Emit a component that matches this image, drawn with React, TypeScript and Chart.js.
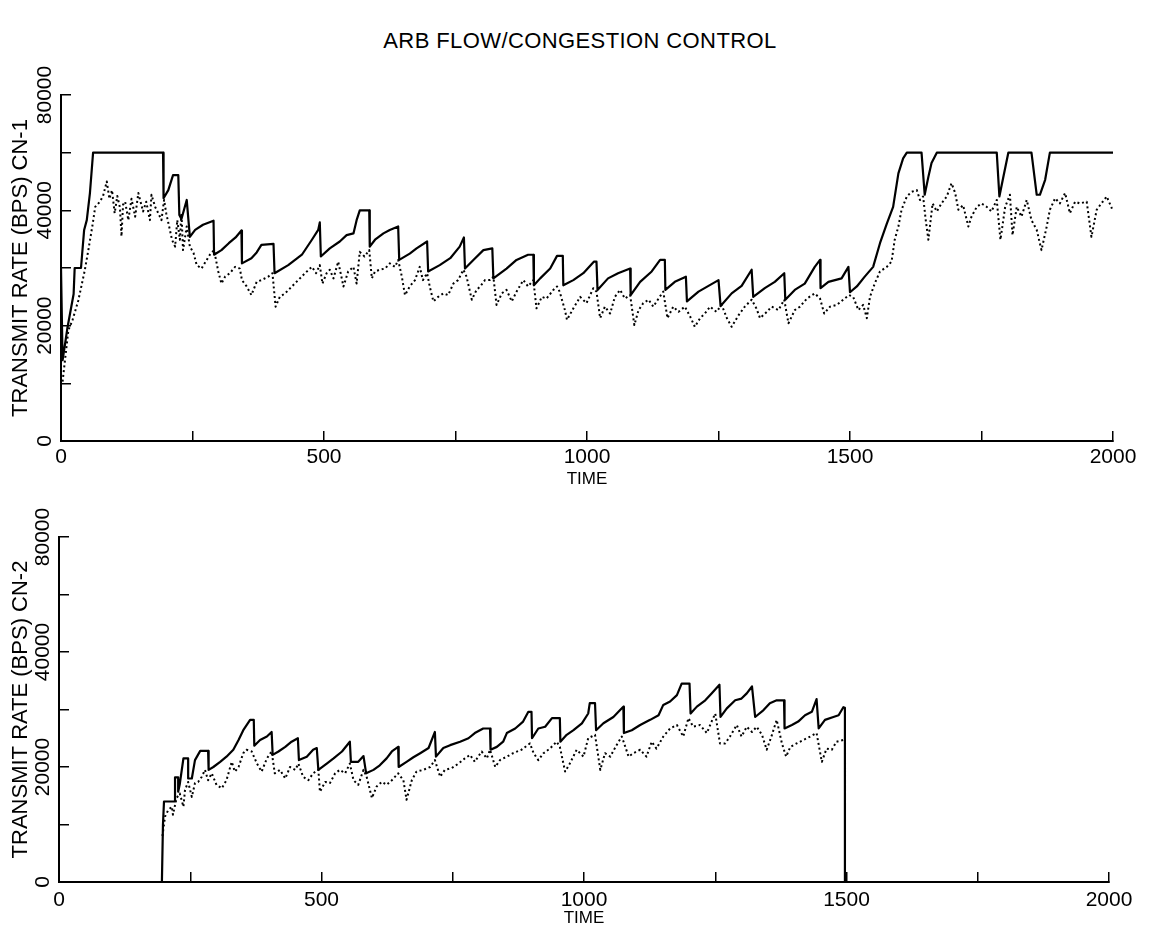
import React, { useEffect, useRef } from "react";
import { Chart, registerables } from "chart.js";

Chart.register(...registerables);

const FONT = "'Liberation Sans', Arial, sans-serif";

const TITLE = "ARB FLOW/CONGESTION CONTROL";
const X_TITLE = "TIME";
const TOP_Y_TITLE = "TRANSMIT RATE (BPS) CN-1";
const BOTTOM_Y_TITLE = "TRANSMIT RATE (BPS) CN-2";

const X_MIN = 0;
const X_MAX = 2000;
const X_STEP = 250;
const X_LABEL_EVERY = 500;
const Y_MIN = 0;
const Y_MAX = 60000;
const Y_STEP = 10000;
const Y_TICK_VALUES = [0, 20000, 40000, 60000];
const Y_TICK_LABELS = ["0", "20000", "40000", "80000"];

// ---- CN-1 (top) ----
const TOP_SOLID_T = [
  0, 3, 8, 12, 18, 24, 26, 38, 44, 49, 55, 61, 194, 195, 204, 213, 223, 225, 229, 239, 245, 255, 270, 290, 291,
  305, 319, 332, 343, 344, 362, 372, 381, 404, 406, 432, 458, 477, 489, 492, 494, 511, 530, 543, 556, 562, 568,
  586, 587, 597, 613, 625, 641, 643, 663, 676, 696, 698, 720, 740, 758, 766, 768, 784, 803, 820, 822, 847, 866,
  888, 898, 899, 911, 930, 943, 954, 955, 974, 993, 1013, 1018, 1020, 1040, 1059, 1082, 1083, 1101, 1123, 1139,
  1148, 1149, 1167, 1188, 1190, 1212, 1231, 1250, 1254, 1275, 1294, 1313, 1316, 1338, 1357, 1375, 1377, 1395,
  1414, 1433, 1443, 1444, 1459, 1484, 1497, 1500, 1513, 1528, 1544, 1557, 1570, 1582, 1592, 1601, 1608, 1636,
  1642, 1649, 1655, 1665, 1779, 1784, 1792, 1801, 1845, 1855, 1861, 1871, 1880, 2000,
];
const TOP_SOLID_V = [
  30000, 14000, 17000, 19500, 22500, 25500, 30000, 30000, 36600, 38300, 43000, 50000, 50000, 42100, 43500, 46100,
  46100, 39200, 38500, 41800, 35400, 36600, 37500, 38200, 32300, 33100, 34300, 35300, 36500, 30800, 31700, 32700,
  34000, 34200, 29100, 30500, 32300, 34900, 36600, 37900, 32000, 33400, 34600, 35700, 36000, 38300, 40000, 40000,
  33700, 34900, 36000, 36600, 37200, 31400, 32500, 33400, 34600, 29400, 30500, 31700, 33700, 35300, 29900, 31400,
  33100, 33400, 28200, 29900, 31400, 32300, 32300, 27000, 28200, 29900, 32100, 32100, 27000, 27900, 29100, 31100,
  31100, 26200, 28200, 29100, 29900, 25300, 27600, 29400, 31400, 31400, 26200, 27600, 28500, 24200, 25900, 26900,
  27900, 23400, 25600, 26900, 29700, 25000, 26500, 27600, 29100, 24500, 26200, 27300, 30200, 31400, 26500, 27600,
  28200, 30200, 25800, 26800, 28500, 30200, 34300, 37700, 40600, 46400, 49000, 50000, 50000, 42700, 45800, 48200,
  50000, 50000, 42400, 46000, 50000, 50000, 42700, 42700, 45300, 50000, 50000,
];
const TOP_DOT_T = [
  3, 14, 22, 33, 45, 52, 60, 65, 74, 80, 87, 92, 97, 102, 107, 112, 115, 118, 122, 128, 134, 141, 147, 156, 162,
  169, 172, 179, 185, 191, 196, 200, 207, 211, 217, 221, 226, 229, 232, 239, 245, 252, 258, 267, 277, 283, 291,
  299, 305, 312, 321, 331, 340, 344, 353, 362, 372, 381, 394, 402, 408, 416, 426, 439, 451, 464, 477, 485, 492,
  497, 505, 511, 518, 527, 537, 546, 556, 562, 568, 577, 586, 591, 597, 606, 616, 625, 635, 641, 648, 654, 663,
  673, 682, 688, 696, 701, 708, 717, 727, 736, 746, 755, 765, 771, 781, 790, 797, 806, 816, 822, 828, 838, 847,
  857, 866, 879, 888, 898, 904, 914, 923, 936, 943, 948, 958, 962, 974, 987, 999, 1012, 1018, 1025, 1034, 1044,
  1053, 1063, 1072, 1082, 1090, 1098, 1107, 1117, 1126, 1136, 1145, 1153, 1164, 1174, 1186, 1196, 1205, 1215,
  1224, 1234, 1246, 1256, 1266, 1275, 1288, 1300, 1313, 1322, 1329, 1342, 1351, 1364, 1375, 1383, 1395, 1405,
  1418, 1433, 1443, 1451, 1462, 1475, 1487, 1498, 1506, 1516, 1525, 1532, 1538, 1547, 1557, 1570, 1579, 1585,
  1592, 1598, 1608, 1617, 1627, 1633, 1639, 1644, 1649, 1657, 1665, 1674, 1684, 1693, 1700, 1706, 1715, 1725,
  1731, 1741, 1750, 1760, 1769, 1779, 1786, 1795, 1804, 1809, 1817, 1826, 1836, 1845, 1855, 1864, 1874, 1880,
  1890, 1899, 1909, 1918, 1928, 1937, 1950, 1959, 1969, 1978, 1988, 1998,
];
const TOP_DOT_V = [
  10300, 19200, 21000, 24400, 29500, 33100, 37500, 40600, 41500, 42500, 45000, 42000, 43500, 39500, 42500, 40500,
  35500, 41000, 41500, 38300, 42000, 38900, 43000, 39800, 41500, 38300, 42700, 40600, 39500, 38300, 41800, 39500,
  36600, 34900, 33700, 38300, 34900, 39500, 33100, 37200, 33700, 32600, 30500, 29900, 31400, 32300, 33100, 29400,
  27300, 28500, 29100, 30200, 29900, 27900, 26800, 25300, 27600, 27900, 28500, 29100, 23300, 25000, 25600, 26800,
  27900, 29100, 30200, 29100, 30500, 27300, 29100, 29700, 28200, 31100, 26800, 29400, 30200, 27300, 32800, 32000,
  33100, 28200, 29400, 29700, 29900, 30800, 30200, 31400, 28500, 25300, 26800, 27900, 30200, 27900, 29100, 26800,
  24200, 25000, 25600, 25300, 27300, 27900, 29700, 28500, 24500, 26200, 26800, 27900, 27900, 28500, 23600, 25600,
  26200, 24200, 25900, 27900, 26800, 27900, 23000, 25000, 24700, 26200, 26800, 25900, 22700, 21000, 23000, 25000,
  23900, 26500, 25900, 21300, 23300, 22100, 25000, 26200, 24700, 25300, 20100, 22700, 23900, 24500, 23300, 24700,
  25900, 21300, 23300, 22400, 23300, 21600, 19800, 21300, 22100, 23300, 22400, 23600, 21300, 19800, 21800, 23300,
  24500, 23000, 21300, 22400, 23300, 22700, 24500, 20400, 22700, 23300, 24700, 25600, 24700, 22100, 23300, 23600,
  24500, 25300, 25000, 22700, 23600, 21300, 25000, 27300, 29400, 30200, 31100, 34900, 37200, 40100, 42400, 43200,
  43500, 41800, 42400, 38300, 34900, 41200, 39800, 41200, 42400, 44700, 43000, 40100, 40900, 37200, 38900, 40600,
  41200, 40600, 39800, 41800, 34900, 40600, 42700, 35700, 40600, 38900, 41800, 38300, 36600, 33100, 37200, 40100,
  42100, 41200, 43000, 39500, 41500, 41200, 41500, 35400, 40100, 41200, 42400, 40300,
];

// ---- CN-2 (bottom) ----
const BOT_SOLID_T = [
  0, 196, 198, 200, 221, 221, 227, 227, 230, 237, 246, 246, 253, 259, 269, 284, 285, 294, 307, 319, 332, 342, 351,
  364, 371, 372, 383, 396, 405, 407, 418, 431, 443, 455, 457, 472, 484, 491, 494, 510, 523, 539, 554, 556, 570,
  580, 585, 599, 611, 624, 634, 646, 647, 662, 675, 688, 704, 716, 718, 732, 745, 764, 780, 792, 808, 821, 822,
  834, 846, 853, 869, 884, 894, 900, 901, 913, 926, 939, 954, 955, 967, 980, 996, 1008, 1011, 1021, 1023, 1037,
  1056, 1072, 1075, 1076, 1091, 1107, 1126, 1142, 1151, 1164, 1177, 1186, 1201, 1203, 1215, 1231, 1243, 1258,
  1260, 1272, 1288, 1300, 1310, 1320, 1326, 1342, 1354, 1367, 1381, 1382, 1396, 1408, 1421, 1434, 1443, 1447,
  1459, 1475, 1485, 1494, 1497, 1497, 2000,
];
const BOT_SOLID_V = [
  0, 0, 9900, 14000, 14000, 18200, 18200, 15700, 17000, 21500, 21500, 18000, 18000, 21200, 22800, 22800, 19500,
  20000, 20900, 21800, 23000, 24700, 26400, 28200, 28200, 23700, 24700, 25300, 26100, 22100, 22700, 23500, 24400,
  25000, 21200, 21800, 23000, 23300, 19500, 20600, 21500, 22700, 24400, 20900, 20900, 21900, 18900, 19500, 20300,
  21500, 22700, 23500, 20000, 20900, 21700, 22400, 23300, 26100, 21800, 23300, 23800, 24400, 25000, 25900, 26700,
  26700, 23000, 23500, 24400, 25900, 26700, 27900, 29600, 29600, 25000, 26700, 27000, 28500, 28500, 24400, 25600,
  26400, 27600, 29300, 31100, 31100, 26400, 27600, 28700, 30200, 30500, 25900, 26400, 27300, 28200, 29000, 30800,
  31400, 32500, 34500, 34500, 29300, 30500, 31600, 32800, 34300, 28700, 30200, 31600, 31900, 32800, 34000, 28700,
  29900, 31100, 31600, 31600, 26700, 27300, 27900, 29000, 29600, 31800, 26700, 28200, 28700, 29000, 30400, 30300,
  0, 0,
];
const BOT_DOT_T = [
  197, 202, 208, 215, 217, 224, 230, 237, 240, 246, 253, 259, 265, 272, 278, 284, 291, 300, 310, 319, 329, 335,
  342, 351, 357, 367, 377, 386, 396, 405, 411, 421, 431, 440, 450, 456, 465, 475, 484, 494, 497, 507, 516, 526,
  535, 545, 554, 561, 570, 580, 586, 596, 605, 615, 624, 634, 646, 656, 662, 672, 681, 694, 707, 716, 726, 735,
  748, 761, 773, 783, 792, 805, 815, 821, 831, 840, 853, 865, 881, 897, 904, 913, 923, 935, 948, 954, 964, 973,
  986, 999, 1008, 1021, 1031, 1040, 1050, 1062, 1072, 1085, 1094, 1107, 1119, 1129, 1138, 1151, 1164, 1177, 1189,
  1199, 1208, 1221, 1234, 1243, 1250, 1259, 1269, 1278, 1291, 1300, 1310, 1320, 1329, 1339, 1348, 1358, 1367,
  1377, 1385, 1393, 1405, 1418, 1431, 1443, 1453, 1462, 1472, 1481, 1494,
];
const BOT_DOT_V = [
  8000, 11400, 12500, 13100, 11700, 14600, 15400, 13100, 16000, 17400, 14800, 17200, 17400, 18300, 19500, 17700,
  18900, 16900, 16300, 17700, 20900, 19200, 20000, 22400, 23000, 22700, 20600, 19200, 21500, 22700, 18900, 19500,
  18000, 20000, 19500, 20600, 18300, 17700, 18900, 19500, 15700, 17400, 17200, 18900, 19500, 18900, 20600, 17700,
  16900, 19500, 18300, 14600, 16600, 17400, 16900, 17700, 18900, 17700, 14300, 17700, 19200, 19500, 20000, 21200,
  18300, 19500, 19800, 20600, 21500, 22100, 20900, 22700, 21500, 23000, 20000, 21200, 21800, 22400, 23000, 24100,
  22400, 21200, 22400, 23200, 24400, 23500, 19200, 20600, 23000, 21800, 25000, 25600, 19500, 22400, 21800, 23800,
  25300, 21800, 22400, 23000, 21800, 24400, 23200, 25300, 26700, 27300, 25300, 28500, 27000, 27300, 25900, 27900,
  29300, 24100, 24100, 25300, 27300, 25300, 27000, 26100, 27000, 25600, 23000, 25600, 28200, 24100, 21800, 23500,
  24100, 24700, 25300, 25900, 20900, 23200, 23000, 24400, 24700,
];

function toPoints(t: number[], v: number[]) {
  return t.map((x, i) => ({ x, y: v[i] }));
}

const rotatedYLabels = {
  id: "rotatedYLabels",
  afterDraw(chart: any, _args: any, opts: any) {
    const ctx = chart.ctx;
    const ys = chart.scales.y;
    ctx.save();
    ctx.font = `${opts.size}px ${FONT}`;
    ctx.fillStyle = "#000";
    ctx.textAlign = "center";
    ctx.textBaseline = "middle";
    Y_TICK_VALUES.forEach((v, i) => {
      const py = ys.getPixelForValue(v);
      ctx.save();
      ctx.translate(opts.x, py);
      ctx.rotate(-Math.PI / 2);
      ctx.fillText(Y_TICK_LABELS[i], 0, 0);
      ctx.restore();
    });
    ctx.restore();
  },
};

type PanelCfg = {
  top: number;
  height: number;
  padTop: number;
  padRight: number;
  yWidth: number;
  xHeight: number;
  yTitle: string;
  yLabelX: number;
  xTickPad: number;
  xTitlePad: number;
  solidT: number[];
  solidV: number[];
  dotT: number[];
  dotV: number[];
};

function Panel({ cfg }: { cfg: PanelCfg }) {
  const ref = useRef<HTMLCanvasElement>(null);
  useEffect(() => {
    const chart = new Chart(ref.current as HTMLCanvasElement, {
      type: "line",
      data: {
        datasets: [
          {
            data: toPoints(cfg.solidT, cfg.solidV),
            borderColor: "#000",
            borderWidth: 2.2,
            borderJoinStyle: "round",
            pointRadius: 0,
            tension: 0,
            fill: false,
          },
          {
            data: toPoints(cfg.dotT, cfg.dotV),
            borderColor: "#000",
            borderWidth: 2,
            borderDash: [2, 2.8],
            borderJoinStyle: "round",
            pointRadius: 0,
            tension: 0,
            fill: false,
          },
        ],
      },
      options: {
        animation: false,
        responsive: false,
        maintainAspectRatio: false,
        layout: { padding: { top: cfg.padTop, right: cfg.padRight, bottom: 0, left: 0 } },
        plugins: {
          legend: { display: false },
          tooltip: { enabled: false },
          rotatedYLabels: { x: cfg.yLabelX, size: 21 },
        } as any,
        scales: {
          x: {
            type: "linear",
            min: X_MIN,
            max: X_MAX,
            border: { display: true, color: "#000", width: 2 },
            grid: { display: true, drawOnChartArea: false, drawTicks: true, tickLength: -10, color: "#000", lineWidth: 1.5 },
            ticks: {
              stepSize: X_STEP,
              autoSkip: false,
              maxRotation: 0,
              padding: cfg.xTickPad,
              color: "#000",
              font: { family: FONT, size: 21 },
              callback: (v: any) => (Number(v) % X_LABEL_EVERY === 0 ? String(v) : ""),
            },
            title: {
              display: true,
              text: X_TITLE,
              color: "#000",
              font: { family: FONT, size: 17 },
              padding: { top: 0, bottom: cfg.xTitlePad },
            },
            afterFit: (s: any) => {
              s.height = cfg.xHeight;
            },
          },
          y: {
            type: "linear",
            min: Y_MIN,
            max: Y_MAX,
            border: { display: true, color: "#000", width: 2 },
            grid: { display: true, drawOnChartArea: false, drawTicks: true, tickLength: -10, color: "#000", lineWidth: 1.5 },
            ticks: { stepSize: Y_STEP, display: false },
            title: {
              display: true,
              text: cfg.yTitle,
              color: "#000",
              font: { family: FONT, size: 22 },
              padding: { top: 8, bottom: 0 },
            },
            afterFit: (s: any) => {
              s.width = cfg.yWidth;
            },
          },
        },
      },
      plugins: [rotatedYLabels],
    } as any);
    return () => chart.destroy();
  }, [cfg]);
  return (
    <canvas
      ref={ref}
      width={1150}
      height={cfg.height}
      style={{ position: "absolute", left: 0, top: cfg.top, width: 1150, height: cfg.height, display: "block" }}
    />
  );
}

const TOP_CFG: PanelCfg = {
  top: 0,
  height: 495,
  padTop: 95,
  padRight: 37,
  yWidth: 61,
  xHeight: 54,
  yTitle: TOP_Y_TITLE,
  yLabelX: 45.5,
  xTickPad: 13.5,
  xTitlePad: 5,
  solidT: TOP_SOLID_T,
  solidV: TOP_SOLID_V,
  dotT: TOP_DOT_T,
  dotV: TOP_DOT_V,
};

const BOTTOM_CFG: PanelCfg = {
  top: 495,
  height: 437,
  padTop: 42,
  padRight: 41,
  yWidth: 59,
  xHeight: 50,
  yTitle: BOTTOM_Y_TITLE,
  yLabelX: 43.5,
  xTickPad: 15.5,
  xTitlePad: 3,
  solidT: BOT_SOLID_T,
  solidV: BOT_SOLID_V,
  dotT: BOT_DOT_T,
  dotV: BOT_DOT_V,
};

export default function App() {
  return (
    <div style={{ position: "absolute", left: 0, top: 0, width: 1150, height: 932, background: "#fff", overflow: "hidden" }}>
      <div
        style={{
          position: "absolute",
          left: 0,
          top: 29,
          width: 1160,
          textAlign: "center",
          fontFamily: FONT,
          fontSize: 22,
          lineHeight: "23px",
          color: "#000",
          letterSpacing: 0.4,
        }}
      >
        {TITLE}
      </div>
      <Panel cfg={TOP_CFG} />
      <Panel cfg={BOTTOM_CFG} />
    </div>
  );
}
